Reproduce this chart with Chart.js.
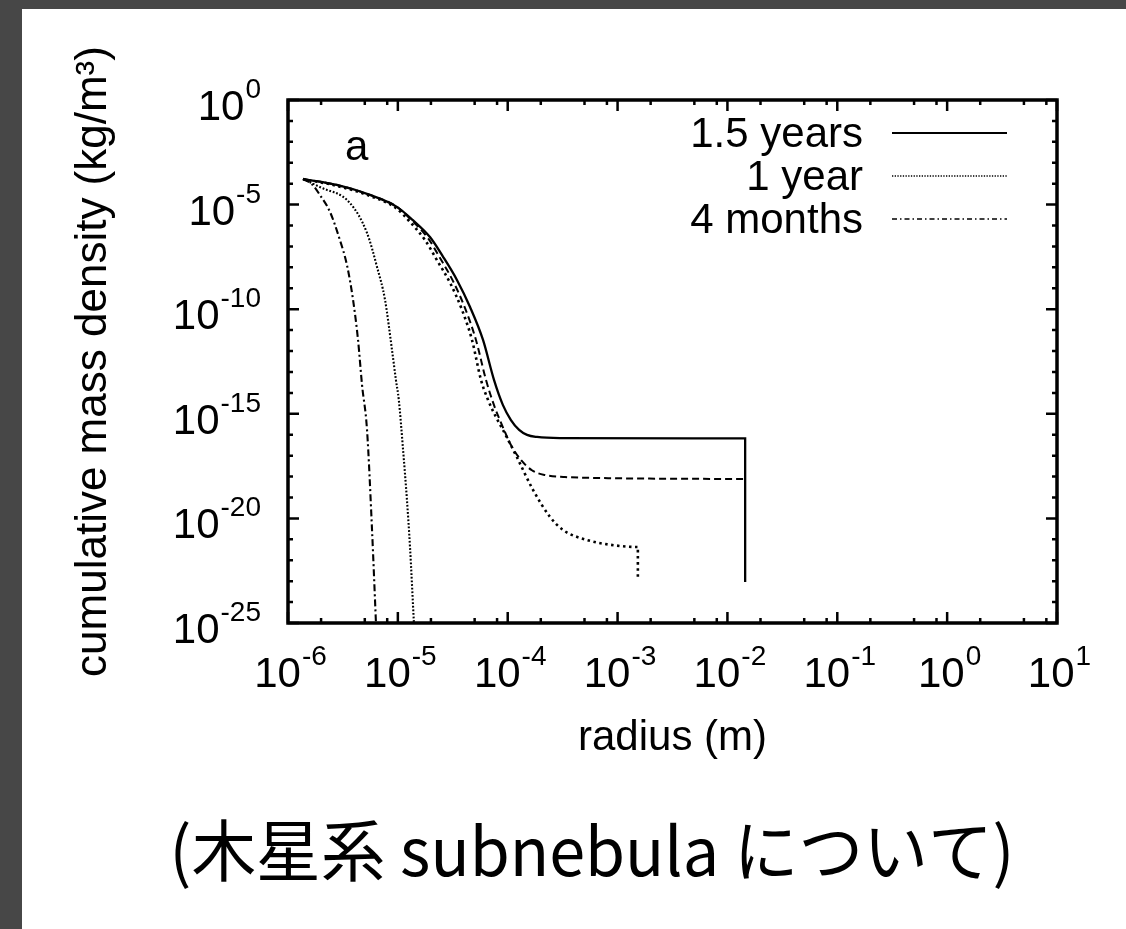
<!DOCTYPE html>
<html>
<head>
<meta charset="utf-8">
<script src="https://cdn.jsdelivr.net/npm/chart.js@4.4.1/dist/chart.umd.min.js"></script>
<style>
  html, body { margin: 0; padding: 0; background: #474747; }
  #wrap { width: 1126px; height: 929px; }
</style>
</head>
<body>
<div id="wrap"><canvas id="densityChart" width="1126" height="929"></canvas></div>
<script>
// radius (m) vs cumulative mass density (kg/m^3)
const radius_15y  = [1.37e-6, 2.79e-6, 5.57e-6, 9.8e-6, 1.37e-5, 1.96e-5, 2.58e-5, 3.45e-5, 4.54e-5, 5.96e-5, 7.5e-5, 9.05e-5, 1.07e-4, 1.27e-4, 1.50e-4, 1.85e-4, 2.99e-4, 1.45e-2, 1.45e-2];
const density_15y = [1.66e-4, 8.7e-5, 2.9e-5, 7.8e-6, 1.8e-6, 2.8e-7, 3.2e-8, 2.5e-9, 1.27e-10, 3.4e-12, 4.2e-14, 2.6e-15, 5.0e-16, 1.7e-16, 9.8e-17, 7.8e-17, 6.9e-17, 6.7e-17, 9.1e-24];

const radius_dash  = [1.37e-6, 2.79e-6, 5.57e-6, 9.8e-6, 1.35e-5, 1.88e-5, 2.42e-5, 3.18e-5, 4.08e-5, 5.14e-5, 6.34e-5, 7.5e-5, 8.87e-5, 1.07e-4, 1.32e-4, 1.66e-4, 2.18e-4, 3.32e-4, 6.9e-4, 1.39e-2];
const density_dash = [1.66e-4, 8.7e-5, 2.9e-5, 7.8e-6, 1.66e-6, 2.5e-7, 2.8e-8, 2.2e-9, 1.15e-10, 3.4e-12, 4.2e-14, 2.6e-15, 2.9e-16, 3.2e-17, 6.2e-18, 2.0e-18, 1.18e-18, 9.5e-19, 8.5e-19, 7.6e-19];

const radius_dot  = [1.37e-6, 2.79e-6, 5.57e-6, 9.6e-6, 1.29e-5, 1.77e-5, 2.27e-5, 2.99e-5, 3.84e-5, 4.73e-5, 5.71e-5, 6.62e-5, 7.82e-5, 9.05e-5, 1.21e-4, 1.70e-4, 2.43e-4, 3.19e-4, 5.27e-4, 1.05e-3, 1.53e-3, 1.53e-3];
const density_dot = [1.66e-4, 7.8e-5, 2.6e-5, 6.9e-6, 1.48e-6, 2.0e-7, 2.2e-8, 1.8e-9, 9.1e-11, 3.4e-12, 4.2e-14, 4.6e-15, 7.0e-16, 1.7e-16, 8.6e-18, 2.3e-19, 1.17e-20, 2.8e-21, 9.3e-22, 4.8e-22, 4.3e-22, 1.15e-23];

const radius_1y  = [1.37e-6, 1.95e-6, 3.66e-6, 5.24e-6, 6.46e-6, 7.64e-6, 8.85e-6, 9.6e-6, 1.02e-5, 1.11e-5, 1.21e-5, 1.29e-5, 1.40e-5];
const density_1y = [1.66e-4, 6.9e-5, 1.2e-5, 4.4e-7, 1.05e-8, 2.8e-10, 1.1e-12, 4.2e-14, 4.6e-15, 2.6e-17, 7.6e-20, 4.3e-22, 1e-25];

const radius_4m  = [1.37e-6, 1.65e-6, 1.95e-6, 2.41e-6, 2.97e-6, 3.44e-6, 3.91e-6, 4.34e-6, 4.72e-6, 5.24e-6, 5.82e-6, 6.32e-6];
const density_4m = [1.66e-4, 9.5e-5, 2.9e-5, 4.5e-6, 2.0e-7, 1.3e-8, 2.8e-10, 3.4e-12, 2.4e-14, 1.7e-16, 2.8e-21, 1e-25];

// tick exponents (labels are 10^n)
const xTickExps = [-6, -5, -4, -3, -2, -1, 0, 1];
const yTickExps = [0, -5, -10, -15, -20, -25];
const xMinorMantissas = [2, 5, 8];

const FONT = '"Liberation Sans", Arial, sans-serif';

function pts(xs, ys) {
  return xs.map((x, i) => ({ x: x, y: ys[i] }));
}

// 10^n with a raised exponent
function drawPow(ctx, exp, x, y, align) {
  ctx.font = '42px ' + FONT;
  const wBase = ctx.measureText('10').width;
  ctx.font = '28px ' + FONT;
  const expStr = String(exp);
  const wExp = ctx.measureText(expStr).width;
  let x0 = x;
  if (align === 'right') x0 = x - wBase - wExp;
  else if (align === 'center') x0 = x - (wBase + wExp) / 2;
  ctx.textAlign = 'left';
  ctx.textBaseline = 'alphabetic';
  ctx.font = '42px ' + FONT;
  ctx.fillText('10', x0, y);
  ctx.font = '28px ' + FONT;
  ctx.fillText(expStr, x0 + wBase + 1, y - 22);
}

const gnuplotFrame = {
  id: 'gnuplotFrame',
  beforeDraw(chart) {
    const ctx = chart.ctx;
    ctx.save();
    ctx.fillStyle = '#474747';
    ctx.fillRect(0, 0, chart.width, chart.height);
    ctx.fillStyle = '#ffffff';
    ctx.fillRect(22, 9, chart.width - 22, chart.height - 9);
    ctx.restore();
  },
  afterDatasetsDraw(chart) {
    const ctx = chart.ctx;
    const a = chart.chartArea;
    const xs = chart.scales.x, ys = chart.scales.y;
    ctx.save();
    ctx.strokeStyle = '#000';
    ctx.fillStyle = '#000';

    // ticks, inward on all four sides
    ctx.lineWidth = 2.5;
    ctx.beginPath();
    for (let d = -6; d <= 1; d++) {
      const px = xs.getPixelForValue(Math.pow(10, d));
      ctx.moveTo(px, a.bottom); ctx.lineTo(px, a.bottom - 11);
      ctx.moveTo(px, a.top); ctx.lineTo(px, a.top + 11);
      if (d < 1) {
        xMinorMantissas.forEach(m => {
          const mx = xs.getPixelForValue(m * Math.pow(10, d));
          ctx.moveTo(mx, a.bottom); ctx.lineTo(mx, a.bottom - 5);
          ctx.moveTo(mx, a.top); ctx.lineTo(mx, a.top + 5);
        });
      }
    }
    for (let e = -25; e <= 0; e++) {
      const py = ys.getPixelForValue(Math.pow(10, e));
      const len = (e % 5 === 0) ? 11 : 5;
      ctx.moveTo(a.left, py); ctx.lineTo(a.left + len, py);
      ctx.moveTo(a.right, py); ctx.lineTo(a.right - len, py);
    }
    ctx.stroke();

    // frame
    ctx.lineWidth = 3.5;
    ctx.strokeRect(a.left, a.top, a.right - a.left, a.bottom - a.top);

    // tick labels
    xTickExps.forEach(e => {
      drawPow(ctx, e, xs.getPixelForValue(Math.pow(10, e)) + 2, a.bottom + 64, 'center');
    });
    yTickExps.forEach(e => {
      drawPow(ctx, e, a.left - 28, ys.getPixelForValue(Math.pow(10, e)) + 20, 'right');
    });

    // panel letter
    ctx.font = '42px ' + FONT;
    ctx.textAlign = 'left';
    ctx.textBaseline = 'alphabetic';
    ctx.fillText('a', 345, 160);

    // key: text right-aligned, line sample on the right
    let row = 0;
    chart.data.datasets.forEach(ds => {
      if (!ds.label) return;
      const base = 147 + row * 43;
      ctx.font = '42px ' + FONT;
      ctx.textAlign = 'right';
      ctx.fillText(ds.label, 863, base);
      ctx.beginPath();
      ctx.lineWidth = ds.keyWidth;
      ctx.setLineDash(ds.keyDash);
      ctx.moveTo(892, base - 14);
      ctx.lineTo(1007, base - 14);
      ctx.stroke();
      ctx.setLineDash([]);
      row++;
    });

    // caption under the figure
    ctx.font = '67px "Noto Sans CJK JP", "Noto Sans CJK SC", sans-serif';
    ctx.textAlign = 'center';
    ctx.fillText('(木星系 subnebula について)', 592, 876, 845);
    ctx.restore();
  }
};

const ctx = document.getElementById('densityChart').getContext('2d');
const densityChart = new Chart(ctx, {
  type: 'line',
  data: {
    datasets: [
      { label: '1.5 years', data: pts(radius_15y, density_15y), borderColor: '#000', borderWidth: 2.3,
        borderDash: [], keyDash: [], keyWidth: 2 },
      { label: '', data: pts(radius_dash, density_dash), borderColor: '#000', borderWidth: 2,
        borderDash: [7, 4], keyDash: [7, 4], keyWidth: 2 },
      { label: '', data: pts(radius_dot, density_dot), borderColor: '#000', borderWidth: 2.6,
        borderDash: [2.5, 3.5], keyDash: [2.5, 3.5], keyWidth: 2.5 },
      { label: '1 year', data: pts(radius_1y, density_1y), borderColor: '#000', borderWidth: 2.1,
        borderDash: [1.8, 1.8], keyDash: [1.3, 1.4], keyWidth: 1.6 },
      { label: '4 months', data: pts(radius_4m, density_4m), borderColor: '#000', borderWidth: 2.1,
        borderDash: [7, 3, 2, 3], keyDash: [5, 3, 1.5, 3], keyWidth: 1.6 }
    ]
  },
  options: {
    responsive: false,
    animation: false,
    cubicInterpolationMode: 'monotone',
    elements: { point: { radius: 0 }, line: { fill: false } },
    layout: { padding: { left: 0, top: 100, right: 69, bottom: 0 } },
    plugins: { legend: { display: false }, tooltip: { enabled: false } },
    scales: {
      x: {
        type: 'logarithmic', min: 1e-6, max: 10,
        grid: { display: false }, border: { display: false }, ticks: { display: false },
        title: { display: true, text: 'radius (m)', color: '#000',
                 font: { family: FONT, size: 42 }, padding: { top: 0, bottom: 165 } },
        afterFit(scale) { scale.height = 306; }
      },
      y: {
        type: 'logarithmic', min: 1e-25, max: 1,
        grid: { display: false }, border: { display: false }, ticks: { display: false },
        title: { display: true, text: 'cumulative mass density (kg/m³)', color: '#000',
                 font: { family: FONT, size: 44 }, padding: { top: 67, bottom: 0 } },
        afterFit(scale) { scale.width = 288; }
      }
    }
  },
  plugins: [gnuplotFrame]
});
</script>
</body>
</html>
